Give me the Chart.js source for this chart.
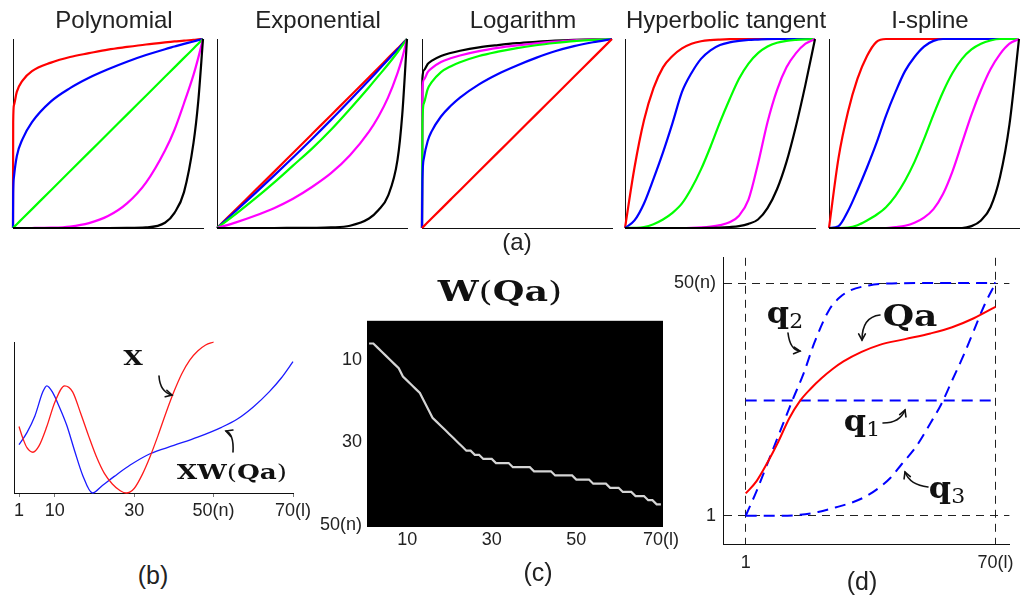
<!DOCTYPE html>
<html><head><meta charset="utf-8">
<script src="https://cdn.jsdelivr.net/npm/chart.js@4.4.1/dist/chart.umd.min.js"></script>
<style>
body{margin:0;background:#fff;width:1022px;height:596px;position:relative;overflow:hidden}
canvas{position:absolute}
.t{position:absolute;transform:translate(-50%,-50%);white-space:nowrap;line-height:1;color:#222;font-family:"Liberation Sans",Arial,sans-serif}
.m{position:absolute;transform:translate(-50%,-50%) scaleX(1.2);white-space:nowrap;line-height:1;color:#111;font-family:"DejaVu Serif",serif}
.m b{font-weight:bold}
.m .r{font-weight:normal}
.m sub{font-size:20px;font-weight:normal;vertical-align:baseline;position:relative;top:5px}
</style></head><body>
<canvas id="p1" width="210" height="210" style="left:3px;top:30px"></canvas>
<canvas id="p2" width="210" height="210" style="left:207px;top:30px"></canvas>
<canvas id="p3" width="210" height="210" style="left:412px;top:30px"></canvas>
<canvas id="p4" width="210" height="210" style="left:615px;top:30px"></canvas>
<canvas id="p5" width="203" height="210" style="left:819px;top:30px"></canvas>
<canvas id="cb" width="320" height="200" style="left:0px;top:330px"></canvas>
<canvas id="cc" width="400" height="260" style="left:295px;top:305px"></canvas>
<canvas id="cd" width="352" height="340" style="left:670px;top:240px"></canvas>

<div class="t" style="left:114px;top:20px;font-size:24px">Polynomial</div>
<div class="t" style="left:318px;top:20px;font-size:24px">Exponential</div>
<div class="t" style="left:523px;top:20px;font-size:24px">Logarithm</div>
<div class="t" style="left:726px;top:20px;font-size:24px">Hyperbolic tangent</div>
<div class="t" style="left:930px;top:20px;font-size:24px">I-spline</div>
<div class="t" style="left:517px;top:242px;font-size:24px">(a)</div>
<div class="t" style="left:153px;top:575px;font-size:25px">(b)</div>
<div class="t" style="left:538px;top:572px;font-size:25px">(c)</div>
<div class="t" style="left:862px;top:581px;font-size:25px">(d)</div>
<div class="m" style="left:500px;top:292px;font-size:28px;transform:translate(-50%,-50%) scaleX(1.3)"><b>W</b><span class="r">(</span><b>Qa</b><span class="r">)</span></div>
<div class="m" style="left:133px;top:358px;font-size:21px"><b>X</b></div>
<div class="m" style="left:232px;top:472px;font-size:21px;transform:translate(-50%,-50%) scaleX(1.25)"><b>XW</b><span class="r">(</span><b>Qa</b><span class="r">)</span></div>
<div class="m" style="left:785px;top:313px;font-size:29px;transform:translate(-50%,-50%) scaleX(1.1)"><b>q</b><sub>2</sub></div>
<div class="m" style="left:910px;top:316px;font-size:30px"><b>Qa</b></div>
<div class="m" style="left:862px;top:421px;font-size:29px;transform:translate(-50%,-50%) scaleX(1.1)"><b>q</b><sub>1</sub></div>
<div class="m" style="left:947px;top:488px;font-size:29px;transform:translate(-50%,-50%) scaleX(1.1)"><b>q</b><sub>3</sub></div>

<script>
// ---------- (a) Polynomial ----------
const polyX     = [0,0.001,0.005,0.02,0.05,0.1,0.2,0.3,0.4,0.5,0.6,0.7,0.8,0.85,0.9,0.95,0.975,1];
const polyRed   = [0,0.56,0.65,0.72,0.78,0.83,0.875,0.905,0.925,0.944,0.958,0.971,0.982,0.987,0.991,0.996,0.998,1];
const polyBlue  = [0,0.18,0.27,0.38,0.47,0.56,0.67,0.74,0.795,0.84,0.88,0.915,0.946,0.96,0.974,0.987,0.994,1];
const polyGreen = [0,0.001,0.005,0.02,0.05,0.1,0.2,0.3,0.4,0.5,0.6,0.7,0.8,0.85,0.9,0.95,0.975,1];
const polyMag   = [0,0,0,0,0,0.0001,0.0016,0.008,0.026,0.063,0.13,0.24,0.41,0.52,0.66,0.81,0.9,1];
const polyBlack = [0,0,0,0,0,0,0,0,0,0,0.0003,0.003,0.028,0.08,0.19,0.45,0.67,1];
// ---------- (a) Exponential ----------
const expX     = [0,0.1,0.2,0.3,0.4,0.5,0.6,0.7,0.8,0.85,0.9,0.95,0.975,1];
const expRed   = [0,0.099,0.198,0.297,0.397,0.497,0.597,0.697,0.798,0.848,0.899,0.949,0.975,1];
const expBlue  = [0,0.091,0.183,0.277,0.373,0.471,0.572,0.676,0.782,0.836,0.89,0.945,0.972,1];
const expGreen = [0,0.075,0.155,0.24,0.33,0.42,0.52,0.63,0.745,0.805,0.865,0.93,0.965,1];
const expMag   = [0,0.03,0.065,0.105,0.155,0.217,0.29,0.385,0.51,0.59,0.69,0.82,0.9,1];
const expBlack = [0,0,0,0,0.0005,0.001,0.003,0.012,0.05,0.095,0.17,0.36,0.6,1];
// ---------- (a) Logarithm ----------
const logX     = [0,0.002,0.01,0.03,0.05,0.1,0.15,0.2,0.3,0.4,0.5,0.6,0.7,0.8,0.9,1];
const logRed   = [0,0.002,0.01,0.03,0.05,0.1,0.15,0.2,0.3,0.4,0.5,0.6,0.7,0.8,0.9,1];
const logBlue  = [0,0.25,0.37,0.46,0.51,0.59,0.645,0.69,0.76,0.815,0.86,0.9,0.935,0.962,0.983,1];
const logGreen = [0,0.55,0.66,0.735,0.77,0.825,0.855,0.877,0.91,0.933,0.952,0.967,0.979,0.989,0.995,1];
const logMag   = [0,0.72,0.785,0.825,0.845,0.878,0.898,0.913,0.936,0.953,0.966,0.977,0.986,0.993,0.997,1];
const logBlack = [0,0.79,0.835,0.868,0.884,0.91,0.926,0.938,0.956,0.968,0.978,0.985,0.991,0.995,0.998,1];
// ---------- (a) Hyperbolic tangent ----------
const tanhX     = [0,0.05,0.1,0.15,0.2,0.25,0.3,0.35,0.4,0.45,0.5,0.55,0.6,0.65,0.7,0.75,0.8,0.85,0.9,0.95,1];
const tanhRed   = [0,0.32,0.57,0.74,0.85,0.91,0.95,0.975,0.988,0.994,0.997,0.999,1,1,1,1,1,1,1,1,1];
const tanhBlue  = [0,0.04,0.13,0.26,0.40,0.555,0.72,0.82,0.895,0.94,0.968,0.982,0.99,0.995,0.997,0.999,1,1,1,1,1];
const tanhGreen = [0,0.001,0.005,0.02,0.045,0.08,0.13,0.21,0.31,0.43,0.56,0.68,0.79,0.87,0.925,0.96,0.98,0.99,0.995,0.998,1];
const tanhMag   = [0,0,0,0,0,0,0,0.001,0.003,0.007,0.015,0.03,0.065,0.15,0.34,0.56,0.73,0.85,0.925,0.975,1];
const tanhBlack = [0,0,0,0,0,0,0,0,0,0.001,0.002,0.005,0.01,0.022,0.045,0.105,0.205,0.35,0.54,0.76,1];
// ---------- (a) I-spline ----------
const isplX     = [0,0.05,0.1,0.15,0.2,0.25,0.3,0.35,0.4,0.45,0.5,0.55,0.6,0.65,0.7,0.75,0.8,0.85,0.9,0.95,1];
const isplRed   = [0,0.37,0.615,0.79,0.91,0.985,1,1,1,1,1,1,1,1,1,1,1,1,1,1,1];
const isplBlue  = [0,0.01,0.09,0.2,0.32,0.45,0.595,0.72,0.83,0.905,0.96,0.99,1,1,1,1,1,1,1,1,1];
const isplGreen = [0,0,0.002,0.015,0.04,0.07,0.11,0.17,0.25,0.35,0.47,0.6,0.72,0.82,0.895,0.945,0.975,0.992,1,1,1];
const isplMag   = [0,0,0,0,0,0,0,0.005,0.012,0.028,0.055,0.1,0.18,0.3,0.45,0.6,0.73,0.84,0.92,0.975,1];
const isplBlack = [0,0,0,0,0,0,0,0,0,0,0,0,0,0,0,0.01,0.04,0.11,0.27,0.55,1];

// ---------- (b) X and XW(Qa) ----------
const bRedL  = [1,2,3,4.5,6,8,10,12.5,14.5,16.5,18.5,20.5,22.5,24.5,26.5,28,30,32,34,36,38,40,42,44,46,48,50];
const bRedV  = [0.44,0.36,0.30,0.27,0.31,0.44,0.60,0.71,0.67,0.53,0.38,0.24,0.13,0.06,0.015,0.0,0.03,0.12,0.24,0.38,0.53,0.67,0.79,0.88,0.94,0.98,1.0];
const bBlueL = [1,3,5,7,8,9.5,11,13,15,17,19.5,22,25,29,34,40,46,52,56,60,64,67,70];
const bBlueV = [0.32,0.40,0.51,0.67,0.71,0.665,0.58,0.45,0.28,0.12,0.0,0.05,0.11,0.185,0.26,0.315,0.37,0.435,0.49,0.57,0.67,0.76,0.87];
const bTicks = [1,10,30,50,70];
const bTickLabels = ['1','10','30','50(n)','70(l)'];

// ---------- (c) W(Qa): row index n of the lit cell in each column l = 1..70 ----------
const wRows = [6,6,7,8,9,10,11,12,14,15,16,17,18,20,22,24,25,26,27,28,29,30,31,32,32,33,33,34,34,34,
               35,35,35,35,36,36,36,36,36,37,37,37,37,37,38,38,38,38,38,39,39,39,39,40,40,40,40,41,41,41,
               42,42,42,43,43,43,44,44,45,45];
const cXTicks = [10,30,50,70];
const cXLabels = ['10','30','50','70(l)'];
const cYTicks = [10,30,50];
const cYLabels = ['10','30','50(n)'];

// ---------- (d) q1, q2, q3 and Qa ----------
const dQ1L = [1,70];
const dQ1V = [25.3,25.3];
const dQ2L = [1,4,7,10,14,17,20,24,27,30,35,40,50,70];
const dQ2V = [1,6.2,12,17.8,25.5,31,37.5,44.3,47,48.5,49.5,49.9,50,50];
const dQ3L = [1,10,16,21,26,30,34,38,41,44,48,52,55,58,61,64,67,70];
const dQ3V = [1,1,1.2,1.8,2.8,3.7,5,7,9,11.8,15.5,20.5,24.5,29.5,34.5,40,45.5,50];
const dQaL = [1,4,7,10,13,16,19,22,25,28,33,38,45,52,58,64,70];
const dQaV = [5.7,8.3,12.2,16.6,21.5,25.2,27.8,30,31.9,33.5,35.5,37,38.2,39.4,40.7,42.6,45];
const dXTicks = [1,70];
const dXLabels = ['1','70(l)'];
const dYTicks = [1,50];
const dYLabels = ['1','50(n)'];

// ================= rendering =================
Chart.defaults.font.family = "'Liberation Sans', Arial, sans-serif";
Chart.defaults.color = '#222';
const RED='#ff0000', BLUE='#0000ff', GREEN='#00ff00', MAG='#ff00ff', BLACK='#000000';

function pts(xs, ys){ return xs.map((x,i)=>({x:x, y:ys[i]})); }
function ds(xs, ys, color, width, extra){
  return Object.assign({data:pts(xs,ys), borderColor:color, backgroundColor:color, borderWidth:width,
    pointRadius:0, cubicInterpolationMode:'monotone', fill:false, clip:false}, extra||{});
}
function canvasBox(id){ const c=document.getElementById(id); return {c:c, x:parseFloat(c.style.left), y:parseFloat(c.style.top), w:c.width, h:c.height}; }
// padding so that the chart area is exactly [L,R]x[T,B], given the y-scale width yw and x-scale height xh
function padFor(id, L, T, R, B, yw, xh){ const b=canvasBox(id); return {left:L-b.x-yw, top:T-b.y, right:b.x+b.w-R, bottom:b.y+b.h-B-xh}; }
function fixedTicks(vals){ return function(s){ s.ticks = vals.map(v=>({value:v})); }; }

// arrows given in page pixels: [tail, control, head]
function arrowPlugin(id, arrows){
  const b = canvasBox(id);
  return {id:'arrows', afterDatasetsDraw(chart){
    const ctx = chart.ctx; ctx.save();
    ctx.strokeStyle = '#111'; ctx.lineWidth = 1.6; ctx.lineCap='round';
    arrows.forEach(a=>{
      const p = a.map(q=>[q[0]-b.x, q[1]-b.y]);
      ctx.beginPath(); ctx.moveTo(p[0][0],p[0][1]); ctx.quadraticCurveTo(p[1][0],p[1][1],p[2][0],p[2][1]); ctx.stroke();
      const ang = Math.atan2(p[2][1]-p[1][1], p[2][0]-p[1][0]);
      ctx.beginPath();
      ctx.moveTo(p[2][0]-7*Math.cos(ang-0.5), p[2][1]-7*Math.sin(ang-0.5));
      ctx.lineTo(p[2][0],p[2][1]);
      ctx.lineTo(p[2][0]-7*Math.cos(ang+0.5), p[2][1]-7*Math.sin(ang+0.5));
      ctx.stroke();
    });
    ctx.restore();
  }};
}

function topPanel(id, L, R, series){
  new Chart(document.getElementById(id), {
    type:'line',
    data:{datasets: series.map(s=>ds(s[0], s[1], s[2], 2.2))},
    options:{
      responsive:false, animation:false, devicePixelRatio:1,
      layout:{padding:padFor(id, L, 39, R, 228, 0, 0)},
      plugins:{legend:{display:false}, tooltip:{enabled:false}},
      scales:{
        x:{type:'linear', min:0, max:1, grid:{display:false}, ticks:{display:false},
           border:{display:true, color:'#111', width:1}, afterFit:s=>{s.height=0;}},
        y:{type:'linear', min:0, max:1, grid:{display:false}, ticks:{display:false},
           border:{display:true, color:'#111', width:1}, afterFit:s=>{s.width=0;}}
      }
    }
  });
}

topPanel('p1', 13, 203, [[polyX,polyBlack,BLACK],[polyX,polyMag,MAG],[polyX,polyGreen,GREEN],[polyX,polyBlue,BLUE],[polyX,polyRed,RED]]);
topPanel('p2', 217, 407, [[expX,expBlack,BLACK],[expX,expMag,MAG],[expX,expGreen,GREEN],[expX,expBlue,BLUE],[expX,expRed,RED]]);
topPanel('p3', 422, 612, [[logX,logRed,RED],[logX,logBlue,BLUE],[logX,logGreen,GREEN],[logX,logMag,MAG],[logX,logBlack,BLACK]]);
topPanel('p4', 625, 815, [[tanhX,tanhBlack,BLACK],[tanhX,tanhMag,MAG],[tanhX,tanhGreen,GREEN],[tanhX,tanhBlue,BLUE],[tanhX,tanhRed,RED]]);
topPanel('p5', 829, 1019, [[isplX,isplBlack,BLACK],[isplX,isplMag,MAG],[isplX,isplGreen,GREEN],[isplX,isplBlue,BLUE],[isplX,isplRed,RED]]);

// ---- (b)
new Chart(document.getElementById('cb'), {
  type:'line',
  data:{datasets:[ ds(bRedL,bRedV,'#ff1a1a',1.3), ds(bBlueL,bBlueV,'#1a1aff',1.3) ]},
  options:{
    responsive:false, animation:false, devicePixelRatio:1,
    layout:{padding:padFor('cb', 14, 342, 293, 493, 0, 30)},
    plugins:{legend:{display:false}, tooltip:{enabled:false}},
    scales:{
      x:{type:'linear', min:-0.26, max:70, afterBuildTicks:fixedTicks(bTicks),
         ticks:{callback:(v,i)=>bTickLabels[i], font:{size:18}, color:'#222', padding:3, maxRotation:0, autoSkip:false},
         grid:{display:true, drawOnChartArea:false, drawTicks:true, tickLength:4, color:'#777'},
         border:{display:true, color:'#111', width:1}, afterFit:s=>{s.height=30;}},
      y:{type:'linear', min:0, max:1, grid:{display:false}, ticks:{display:false},
         border:{display:true, color:'#111', width:1}, afterFit:s=>{s.width=0;}}
    }
  },
  plugins:[arrowPlugin('cb', [ [[159,376],[160,392],[172,395]], [[233,452],[234,434],[226,431]] ])]
});

// ---- (c)
const blackBg = {id:'blackBg', beforeDatasetsDraw(chart){ const a=chart.chartArea; const ctx=chart.ctx; ctx.save(); ctx.fillStyle='#000'; ctx.fillRect(a.left,a.top,a.width,a.height); ctx.restore(); }};
new Chart(document.getElementById('cc'), {
  type:'line',
  data:{datasets:[{data:wRows.map((r,i)=>({x:i+1,y:r})), borderColor:'#d4d4d4', borderWidth:2.2, pointRadius:0, tension:0, fill:false}]},
  options:{
    responsive:false, animation:false, devicePixelRatio:1,
    layout:{padding:padFor('cc', 367, 316, 663, 527, 65, 35)},
    plugins:{legend:{display:false}, tooltip:{enabled:false}},
    scales:{
      x:{type:'linear', min:0.5, max:70.5, afterBuildTicks:fixedTicks(cXTicks),
         ticks:{callback:(v,i)=>cXLabels[i], font:{size:18}, color:'#222', padding:2, maxRotation:0, autoSkip:false},
         grid:{display:false, drawTicks:false}, border:{display:false}, afterFit:s=>{s.height=35;}},
      y:{type:'linear', min:0.5, max:50.5, reverse:true, afterBuildTicks:fixedTicks(cYTicks),
         ticks:{callback:(v,i)=>cYLabels[i], font:{size:18}, color:'#222', padding:5, autoSkip:false},
         grid:{display:false, drawTicks:false}, border:{display:false}, afterFit:s=>{s.width=65;}}
    }
  },
  plugins:[blackBg]
});

// ---- (d)
new Chart(document.getElementById('cd'), {
  type:'line',
  data:{datasets:[
    ds(dQaL,dQaV,'#ff0000',2),
    ds(dQ1L,dQ1V,'#0000ff',2,{borderDash:[11,7]}),
    ds(dQ2L,dQ2V,'#0000ff',2,{borderDash:[11,7]}),
    ds(dQ3L,dQ3V,'#0000ff',2,{borderDash:[11,7]})
  ]},
  options:{
    responsive:false, animation:false, devicePixelRatio:1,
    layout:{padding:padFor('cd', 723, 250, 1013, 544, 50, 30)},
    plugins:{legend:{display:false}, tooltip:{enabled:false}},
    scales:{
      x:{type:'linear', min:-5.27, max:73.82, afterBuildTicks:fixedTicks(dXTicks),
         ticks:{callback:(v,i)=>dXLabels[i], font:{size:18}, color:'#222', padding:8, maxRotation:0, autoSkip:false},
         grid:{display:true, drawOnChartArea:true, drawTicks:false, color:'#222', lineWidth:1},
         border:{display:true, color:'#111', width:1, dash:[8,6]}, afterFit:s=>{s.height=30;}},
      y:{type:'linear', min:-4.945, max:55.33, afterBuildTicks:fixedTicks(dYTicks),
         ticks:{callback:(v,i)=>dYLabels[i], font:{size:18}, color:'#222', padding:7, autoSkip:false},
         grid:{display:true, drawOnChartArea:true, drawTicks:false, color:'#222', lineWidth:1},
         border:{display:true, color:'#111', width:1, dash:[8,6]}, afterFit:s=>{s.width=50;}}
    }
  },
  plugins:[arrowPlugin('cd', [ [[788,333],[790,350],[800,351]], [[880,315],[862,317],[862,340]],
                               [[883,423],[900,423],[905,410]], [[928,487],[910,485],[905,472]] ])]
});
</script>
</body></html>
